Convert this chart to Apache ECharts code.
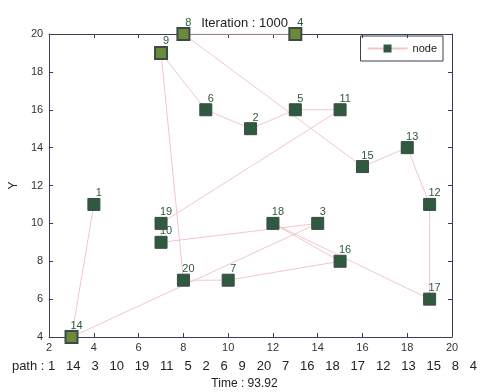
<!DOCTYPE html>
<html>
<head>
<meta charset="utf-8">
<script src="https://cdn.jsdelivr.net/npm/echarts@6/dist/echarts.min.js"></script>
<style>
  html, body {margin: 0; padding: 0; background: #fff;}
  #main {width: 489px; height: 392px;}
</style>
</head>
<body>
<div id="main"></div>
<script>
// node coordinates, index = node id - 1
const nodeX = [4, 11, 14, 13, 13, 9, 10, 8, 7, 7, 15, 19, 18, 3, 16, 15, 19, 12, 7, 8];
const nodeY = [11, 15, 10, 20, 16, 16, 7, 20, 19, 9, 16, 11, 14, 4, 13, 8, 6, 10, 10, 7];
const path = [1, 14, 3, 10, 19, 11, 5, 2, 6, 9, 20, 7, 16, 18, 17, 12, 13, 15, 8, 4];
const lightNodes = [8, 9, 4, 14];
const xTicks = [2, 4, 6, 8, 10, 12, 14, 16, 18, 20];
const yTicks = [4, 6, 8, 10, 12, 14, 16, 18, 20];
const iteration = 1000;
const time = 93.92;

const font = 'Liberation Sans';
const axisCol = '#3b3f55';

var myChart = echarts.init(document.getElementById('main'));

const pathData = path.map(n => ({
  value: [nodeX[n - 1], nodeY[n - 1]],
  name: String(n),
  itemStyle: lightNodes.includes(n)
    ? {color: '#6c8a3c', borderColor: '#3c4a44', borderWidth: 2}
    : {color: '#2f5a40', borderColor: '#3c4a44', borderWidth: 1}
}));

const axisBase = {
  type: 'value',
  interval: 2,
  axisLine: {show: true, lineStyle: {color: axisCol, width: 1}},
  axisTick: {show: true, inside: true, length: 4, lineStyle: {color: axisCol}},
  splitLine: {show: false},
};

myChart.setOption({
  animation: false,
  textStyle: {fontFamily: font},
  title: [
    {text: 'Iteration : ' + iteration, left: 'center', top: 12,
      textStyle: {fontSize: 13, fontWeight: 'normal', color: '#222', fontFamily: font}},
    {text: 'path : ' + path.join('   '), left: 'center', top: 355,
      textStyle: {fontSize: 13, fontWeight: 'normal', color: '#222', fontFamily: font}},
    {text: 'Time : ' + time, left: 'center', top: 373,
      textStyle: {fontSize: 12, fontWeight: 'normal', color: '#222', fontFamily: font}}
  ],
  legend: {
    data: ['node'],
    right: 46,
    top: 36,
    padding: [7, 6, 7, 6],
    borderColor: axisCol,
    borderWidth: 1,
    borderRadius: 0,
    itemWidth: 40,
    itemHeight: 10,
    textStyle: {fontSize: 11, color: '#222', fontFamily: font}
  },
  grid: {left: 48, right: 37, top: 34, bottom: 55},
  xAxis: [
    Object.assign({}, axisBase, {
      min: xTicks[0], max: xTicks[xTicks.length - 1],
      axisLabel: {fontSize: 11, color: '#333', margin: 5}
    }),
    Object.assign({}, axisBase, {
      position: 'top', min: xTicks[0], max: xTicks[xTicks.length - 1],
      axisLabel: {show: false}
    })
  ],
  yAxis: [
    Object.assign({}, axisBase, {
      min: yTicks[0], max: yTicks[yTicks.length - 1],
      name: 'Y', nameLocation: 'middle', nameGap: 26, nameRotate: 90,
      nameTextStyle: {fontSize: 12, color: '#222'},
      axisLabel: {fontSize: 11, color: '#333', margin: 6}
    }),
    Object.assign({}, axisBase, {
      position: 'right', min: yTicks[0], max: yTicks[yTicks.length - 1],
      axisLabel: {show: false}
    })
  ],
  series: [{
    name: 'node',
    type: 'line',
    data: pathData,
    symbol: 'rect',
    symbolSize: 12,
    itemStyle: {color: '#2f5a40', borderColor: '#3c4a44'},
    lineStyle: {color: '#f2c6ce', width: 1},
    label: {
      show: true,
      position: 'top',
      offset: [5, 6],
      formatter: p => p.name,
      fontSize: 11,
      color: '#2f5a40',
      fontFamily: font
    },
    z: 3
  }]
});
</script>
</body>
</html>
